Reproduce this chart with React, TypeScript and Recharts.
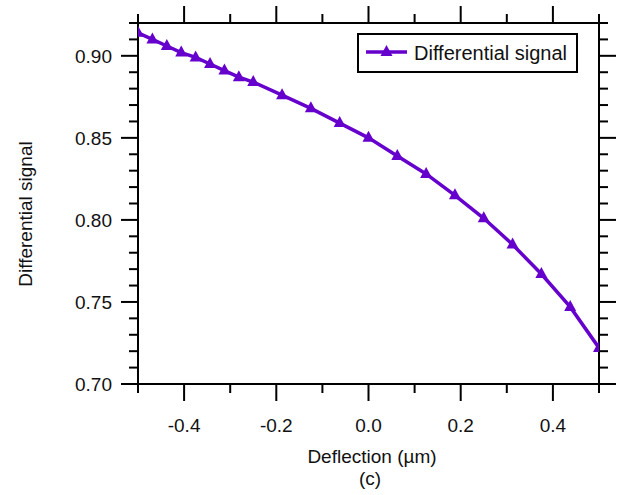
import { LineChart, Line, XAxis, YAxis, Legend, Label } from 'recharts'

const FONT = '"Liberation Sans", Arial, sans-serif'
const PURPLE = '#6600cc'

// Deflection (µm)
const deflection = [
  -0.5, -0.46875, -0.4375, -0.40625, -0.375, -0.34375, -0.3125, -0.28125, -0.25,
  -0.1875, -0.125, -0.0625, 0, 0.0625, 0.125, 0.1875, 0.25, 0.3125, 0.375, 0.4375, 0.5,
]
// Differential signal
const signal = [
  0.914, 0.910, 0.906, 0.902, 0.899, 0.895, 0.891, 0.887, 0.884,
  0.876, 0.868, 0.859, 0.850, 0.839, 0.828, 0.815, 0.801, 0.785, 0.767, 0.747, 0.722,
]

const xMajor = [-0.4, -0.2, 0, 0.2, 0.4]
const xMinor = [-0.5, -0.3, -0.1, 0.1, 0.3, 0.5]
const yMajor = [0.7, 0.75, 0.8, 0.85, 0.9]
const yMinor = [
  0.71, 0.72, 0.73, 0.74, 0.76, 0.77, 0.78, 0.79, 0.81, 0.82, 0.83, 0.84,
  0.86, 0.87, 0.88, 0.89, 0.91, 0.92,
]

const data = deflection.map((x, i) => ({ x, y: signal[i] }))
const xTicks = [...xMajor, ...xMinor].sort((a, b) => a - b)
const yTicks = [...yMajor, ...yMinor].sort((a, b) => a - b)

const isMajor = (list: number[], v: number) => list.some((m) => Math.abs(m - v) < 1e-6)

const MAJOR = 17
const MINOR = 9

function BottomTick({ x, y, payload }: any) {
  const major = isMajor(xMajor, payload.value)
  return (
    <g>
      <line x1={x} x2={x} y1={y} y2={y + (major ? MAJOR : MINOR)} stroke="#000" strokeWidth={2} />
      {major && (
        <text x={x} y={y + 48} textAnchor="middle" fontSize={19} fontFamily={FONT} fill="#111">
          {payload.value.toFixed(1)}
        </text>
      )}
    </g>
  )
}

function TopTick({ x, y, payload }: any) {
  const major = isMajor(xMajor, payload.value)
  return <line x1={x} x2={x} y1={y} y2={y - (major ? MAJOR : MINOR)} stroke="#000" strokeWidth={2} />
}

function LeftTick({ x, y, payload }: any) {
  const major = isMajor(yMajor, payload.value)
  return (
    <g>
      <line x1={x} x2={x - (major ? MAJOR : MINOR)} y1={y} y2={y} stroke="#000" strokeWidth={2} />
      {major && (
        <text x={x - 26} y={y + 7} textAnchor="end" fontSize={19} fontFamily={FONT} fill="#111">
          {payload.value.toFixed(2)}
        </text>
      )}
    </g>
  )
}

function RightTick({ x, y, payload }: any) {
  const major = isMajor(yMajor, payload.value)
  return <line x1={x} x2={x + (major ? MAJOR : MINOR)} y1={y} y2={y} stroke="#000" strokeWidth={2} />
}

function Triangle({ cx, cy, index }: any) {
  return (
    <polygon
      key={index}
      points={`${cx},${cy - 7} ${cx - 6},${cy + 4} ${cx + 6},${cy + 4}`}
      fill={PURPLE}
    />
  )
}

function LegendBox() {
  return (
    <svg width={221} height={40} style={{ display: 'block' }}>
      <rect x={1} y={1} width={219} height={38} fill="#fff" stroke="#000" strokeWidth={2} />
      <line x1={9} x2={50} y1={19} y2={19} stroke={PURPLE} strokeWidth={3.5} />
      <polygon points="29.5,12 23.5,23 35.5,23" fill={PURPLE} />
      <text x={57} y={27} fontSize={20} fontFamily={FONT} fill="#111">
        Differential signal
      </text>
    </svg>
  )
}

export default function App() {
  return (
    <div style={{ position: 'absolute', left: 0, top: 0, background: '#fff' }}>
      <LineChart width={618} height={495} data={data} margin={{ top: 0, right: 0, bottom: 0, left: 0 }}>
        <XAxis
          dataKey="x"
          type="number"
          domain={[-0.5, 0.5]}
          ticks={xTicks}
          interval={0}
          height={111}
          allowDataOverflow
          tickSize={0}
          tickMargin={0}
          tickLine={false}
          tick={BottomTick}
          axisLine={{ stroke: '#000', strokeWidth: 2 }}
        >
          <Label
            content={({ viewBox }: any) => (
              <g fontFamily={FONT} fontSize={19} fill="#111">
                <text x={viewBox.x + 234} y={viewBox.y + 79} textAnchor="middle">
                  Deflection (µm)
                </text>
                <text x={viewBox.x + 232} y={viewBox.y + 101} textAnchor="middle">
                  (c)
                </text>
              </g>
            )}
          />
        </XAxis>
        <XAxis
          xAxisId="top"
          orientation="top"
          dataKey="x"
          type="number"
          domain={[-0.5, 0.5]}
          ticks={xTicks}
          interval={0}
          height={23}
          allowDataOverflow
          tickSize={0}
          tickMargin={0}
          tickLine={false}
          tick={TopTick}
          axisLine={{ stroke: '#000', strokeWidth: 2 }}
        />
        <YAxis
          type="number"
          domain={[0.7, 0.92]}
          ticks={yTicks}
          interval={0}
          width={138}
          allowDataOverflow
          tickSize={0}
          tickMargin={0}
          tickLine={false}
          tick={LeftTick}
          axisLine={{ stroke: '#000', strokeWidth: 2 }}
        >
          <Label
            content={({ viewBox }: any) => (
              <text
                x={viewBox.x + 32}
                y={viewBox.y + 191}
                transform={`rotate(-90, ${viewBox.x + 32}, ${viewBox.y + 191})`}
                textAnchor="middle"
                fontFamily={FONT}
                fontSize={19}
                fill="#111"
              >
                Differential signal
              </text>
            )}
          />
        </YAxis>
        <YAxis
          yAxisId="right"
          orientation="right"
          type="number"
          domain={[0.7, 0.92]}
          ticks={yTicks}
          interval={0}
          width={19}
          allowDataOverflow
          tickSize={0}
          tickMargin={0}
          tickLine={false}
          tick={RightTick}
          axisLine={{ stroke: '#000', strokeWidth: 2 }}
        />
        <Legend
          layout="vertical"
          align="center"
          verticalAlign="middle"
          wrapperStyle={{ left: 357, top: 33, width: 221, height: 40 }}
          content={LegendBox}
        />
        <Line
          dataKey="y"
          name="Differential signal"
          stroke={PURPLE}
          strokeWidth={3.5}
          dot={Triangle}
          activeDot={false}
          isAnimationActive={false}
        />
        <Line
          xAxisId="top"
          yAxisId="right"
          dataKey="y"
          stroke="none"
          dot={false}
          activeDot={false}
          legendType="none"
          isAnimationActive={false}
        />
      </LineChart>
    </div>
  )
}
